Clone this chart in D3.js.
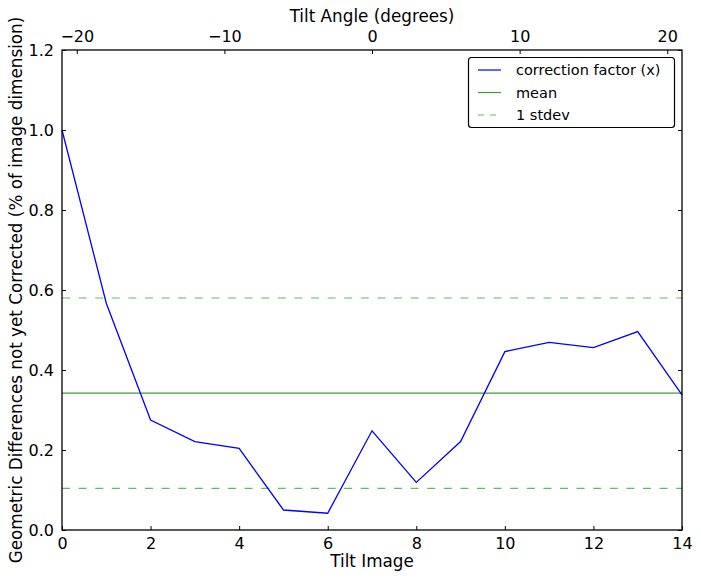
<!DOCTYPE html>
<html><head><meta charset="utf-8">
<script src="https://cdn.jsdelivr.net/npm/d3@7"></script>
<style>body{margin:0;background:#fff;} text{font-family:"DejaVu Sans",sans-serif;fill:#000;}</style>
</head><body><svg id="c" width="701" height="579"></svg>
<script>
const tiltImages = [0,1,2,3,4,5,6,7,8,9,10,11,12,13,14];
const correctionFactor = [1.0,0.567,0.275,0.221,0.204,0.050,0.042,0.248,0.119,0.221,0.446,0.469,0.456,0.496,0.338];
const meanValue = 0.342;
const stdevBands = [0.104, 0.580];
const xTicks = [0,2,4,6,8,10,12,14];
const yTicks = [0.0,0.2,0.4,0.6,0.8,1.0,1.2];
const angleTicks = [-20,-10,0,10,20];
const angleDomain = [-21,21];
const legendItems = ["correction factor (x)","mean","1 stdev"];

(function(){
const svg = d3.select("#c");
const L=62,R=682,T=50,B=530;
const x = d3.scaleLinear().domain([0,14]).range([L,R]);
const y = d3.scaleLinear().domain([0,1.2]).range([B,T]);
const xa = d3.scaleLinear().domain(angleDomain).range([L,R]);

const g = svg.append("g");
g.append("line").attr("x1",L).attr("x2",R).attr("y1",y(meanValue)).attr("y2",y(meanValue))
 .attr("stroke","#3d9a3d").attr("stroke-width",1.2);
stdevBands.forEach(v=>{
  g.append("line").attr("x1",L).attr("x2",R).attr("y1",y(v)).attr("y2",y(v))
   .attr("stroke","#5cbf5c").attr("stroke-width",1.2).attr("stroke-dasharray","8,8.6");
});
g.append("path").datum(tiltImages.map((d,i)=>[d,correctionFactor[i]]))
 .attr("d",d3.line().x(d=>x(d[0])).y(d=>y(d[1])))
 .attr("fill","none").attr("stroke","#0000ff").attr("stroke-width",1.3);

const fs = "16px";
const axBottom = svg.append("g").attr("transform",`translate(0,${B})`)
 .call(d3.axisBottom(x).tickValues(xTicks).tickFormat(d3.format("d")).tickSizeInner(-4).tickSizeOuter(0).tickPadding(8));
const axLeft = svg.append("g").attr("transform",`translate(${L},0)`)
 .call(d3.axisLeft(y).tickValues(yTicks).tickFormat(d3.format(".1f")).tickSizeInner(-4).tickSizeOuter(0).tickPadding(8));
const axRight = svg.append("g").attr("transform",`translate(${R},0)`)
 .call(d3.axisRight(y).tickValues(yTicks).tickFormat("").tickSizeInner(-4).tickSizeOuter(0));
const axTop = svg.append("g").attr("transform",`translate(0,${T})`)
 .call(d3.axisTop(xa).tickValues(angleTicks).tickFormat(d=>d<0?"\u2212"+Math.abs(d):d).tickSizeInner(-4).tickSizeOuter(0).tickPadding(8));
[axBottom,axLeft,axRight,axTop].forEach(a=>{
  a.selectAll("text").style("font-size",fs).attr("fill","#000");
  a.selectAll(".tick line").attr("stroke","#000");
  a.select(".domain").remove();
});
svg.append("rect").attr("x",L).attr("y",T).attr("width",R-L).attr("height",B-T)
 .attr("fill","none").attr("stroke","#000").attr("stroke-width",1.3);

const lfs = "16.8px";
svg.append("text").attr("x",(L+R)/2).attr("y",567).attr("text-anchor","middle").style("font-size",lfs).text("Tilt Image");
svg.append("text").attr("x",(L+R)/2).attr("y",22).attr("text-anchor","middle").style("font-size",lfs).text("Tilt Angle (degrees)");
svg.append("text").attr("transform",`translate(22,${(T+B)/2}) rotate(-90)`).attr("text-anchor","middle")
 .style("font-size",lfs).text("Geometric Differences not yet Corrected (% of image dimension)");

const lg = svg.append("g");
lg.append("rect").attr("x",468.5).attr("y",57.5).attr("width",206).attr("height",70).attr("rx",3)
 .attr("fill","#fff").attr("stroke","#000").attr("stroke-width",1.2);
const styles=[{c:"#0000ff",d:null},{c:"#3d9a3d",d:null},{c:"#5cbf5c",d:"6,6"}];
legendItems.forEach((t,i)=>{
  const yy = 70 + i*22.5;
  lg.append("line").attr("x1",478).attr("x2",501).attr("y1",yy).attr("y2",yy)
    .attr("stroke",styles[i].c).attr("stroke-width",1.2).attr("stroke-dasharray",styles[i].d);
  lg.append("text").attr("x",516).attr("y",yy+5).style("font-size","14.5px").text(t);
});
})();
</script></body></html>
